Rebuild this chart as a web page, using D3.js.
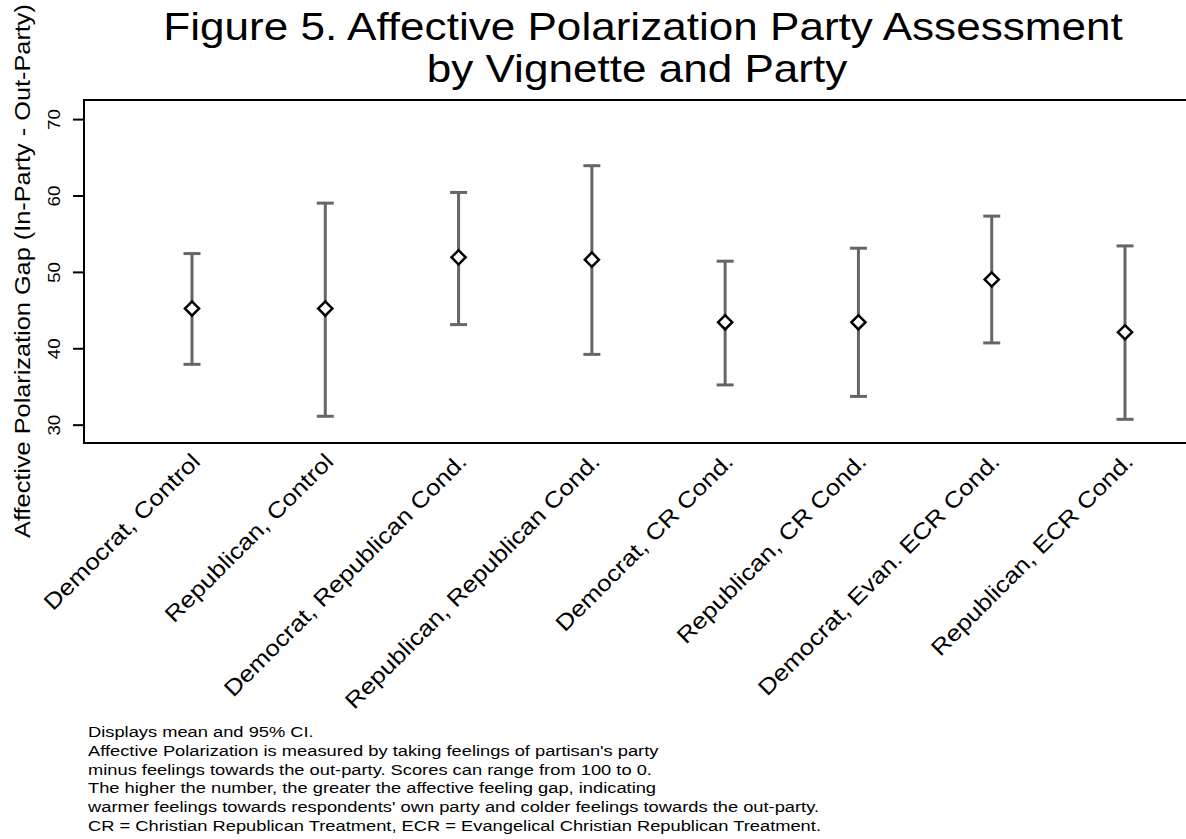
<!DOCTYPE html>
<html>
<head>
<meta charset="utf-8">
<title>Figure 5</title>
<script src="https://d3js.org/d3.v7.min.js"></script>
<style>
    body { margin: 0; background: #fff; }
    svg { display: block; font-family: "Liberation Sans", Arial, sans-serif; }
    .frame { fill: none; stroke: #000; stroke-width: 2; }
    .ci { stroke: #666; stroke-width: 3; }
    .mean { fill: #fff; stroke: #000; stroke-width: 2.5; }
</style>
</head>
<body>
<script>
// groups along the x axis
var groups = ["Democrat, Control", "Republican, Control", "Democrat, Republican Cond.",
              "Republican, Republican Cond.", "Democrat, CR Cond.", "Republican, CR Cond.",
              "Democrat, Evan. ECR Cond.", "Republican, ECR Cond."];
// mean and 95% CI
var means = [45.2, 45.2, 51.9, 51.6, 43.4, 43.4, 49.0, 42.1];
var lower = [37.9, 31.1, 43.1, 39.2, 35.2, 33.7, 40.7, 30.7];
var upper = [52.4, 59.0, 60.4, 63.9, 51.4, 53.1, 57.3, 53.4];
var yTicks = [30, 40, 50, 60, 70];
var notes = ["Displays mean and 95% CI.",
             "Affective Polarization is measured by taking feelings of partisan's party",
             "minus feelings towards the out-party. Scores can range from 100 to 0.",
             "The higher the number, the greater the affective feeling gap, indicating",
             "warmer feelings towards respondents' own party and colder feelings towards the out-party.",
             "CR = Christian Republican Treatment, ECR = Evangelical Christian Republican Treatment."];

var W = 1186, H = 839;
var plotL = 84, plotT = 100, plotB = 443, plotR = 1200;

// the original font is set wider than Arial, so stretch each text a little
function stretch(sel, k) {
    sel.each(function() {
        var len = this.getComputedTextLength();
        d3.select(this).attr("textLength", len * k).attr("lengthAdjust", "spacingAndGlyphs");
    });
}

var svg = d3.select("body").append("svg").attr("width", W).attr("height", H);

var x = d3.scalePoint().domain(groups).range([192, 1125]);
var y = d3.scaleLinear().domain([27.6, 72.5]).range([plotB, plotT]);

// title
svg.append("text").attr("text-anchor", "middle").attr("font-size", 39)
    .attr("x", 643).attr("y", 40).text("Figure 5. Affective Polarization Party Assessment")
    .call(stretch, 1.13);
svg.append("text").attr("text-anchor", "middle").attr("font-size", 39)
    .attr("x", 637).attr("y", 82).text("by Vignette and Party")
    .call(stretch, 1.13);

// plot frame
svg.append("rect").attr("class", "frame")
    .attr("x", plotL).attr("y", plotT).attr("width", plotR - plotL).attr("height", plotB - plotT);

// y axis
var yAxis = svg.append("g").attr("transform", "translate(" + plotL + ",0)")
    .call(d3.axisLeft(y).tickValues(yTicks).tickSize(11).tickPadding(0));
yAxis.select(".domain").remove();
yAxis.selectAll(".tick line").attr("stroke", "#000").attr("stroke-width", 2);
yAxis.selectAll(".tick text")
    .attr("font-size", 17).attr("fill", "#000")
    .attr("text-anchor", "middle")
    .attr("x", null).attr("dy", null)
    .attr("transform", "translate(-24,0) rotate(-90)")
    .call(stretch, 1.1);

svg.append("text")
    .attr("transform", "translate(30,271) rotate(-90)")
    .attr("text-anchor", "middle").attr("font-size", 22)
    .text("Affective Polarization Gap (In-Party - Out-Party)")
    .call(stretch, 1.15);

// x labels
var xAxis = svg.append("g").attr("transform", "translate(0," + plotB + ")")
    .call(d3.axisBottom(x).tickSize(0).tickPadding(0));
xAxis.select(".domain").remove();
xAxis.selectAll(".tick text")
    .attr("font-size", 22.5).attr("fill", "#000")
    .attr("text-anchor", "end")
    .attr("y", null).attr("dy", null)
    .attr("transform", "translate(9,20) rotate(-45)")
    .call(stretch, 1.15);

// error bars
var rows = groups.map(function(g, i) { return {g: g, m: means[i], lo: lower[i], hi: upper[i]}; });
var bars = svg.append("g").selectAll("g").data(rows).enter().append("g")
    .attr("transform", function(d) { return "translate(" + x(d.g) + ",0)"; });
bars.append("line").attr("class", "ci")
    .attr("y1", function(d) { return y(d.lo); }).attr("y2", function(d) { return y(d.hi); });
bars.append("line").attr("class", "ci").attr("x1", -8.5).attr("x2", 8.5)
    .attr("y1", function(d) { return y(d.hi); }).attr("y2", function(d) { return y(d.hi); });
bars.append("line").attr("class", "ci").attr("x1", -8.5).attr("x2", 8.5)
    .attr("y1", function(d) { return y(d.lo); }).attr("y2", function(d) { return y(d.lo); });
bars.append("path").attr("class", "mean")
    .attr("d", d3.symbol(d3.symbolSquare, 100))
    .attr("transform", function(d) { return "translate(0," + y(d.m) + ") rotate(45)"; });

// notes
svg.append("g").selectAll("text").data(notes).enter().append("text")
    .attr("x", 88).attr("y", function(d, i) { return 737 + i * 18.8; })
    .attr("font-size", 15.5)
    .text(function(d) { return d; })
    .call(stretch, 1.18);
</script>
</body>
</html>
